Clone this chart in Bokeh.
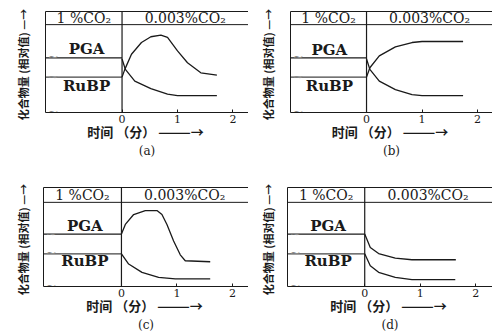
from bokeh.plotting import figure
from bokeh.models import FixedTicker, LinearAxis, Span, Range1d
from bokeh.layouts import column, row
from bokeh.core.properties import value
from bokeh.embed import file_html
from bokeh.resources import INLINE

# ---------------- data ----------------
panel_names = ["(a)", "(b)", "(c)", "(d)"]
header_left = "1 %CO₂"
header_right = "0.003%CO₂"
pga_label = "PGA"
rubp_label = "RuBP"
x_ticks = [0, 1, 2]
x_label = "时间 （分）  ———→"
y_label = "化合物量  (相对值)  —→"

before_t = [-1.6, 0]

# panel (a)
a_pga_before = 54
a_rubp_before = 35
a_up_t = [0, 0.05, 0.17, 0.35, 0.52, 0.70, 0.82, 1.0, 1.18, 1.42, 1.71]
a_up_v = [35, 42.7, 57.7, 69.3, 75, 76.7, 74.3, 61, 49.3, 39.3, 37]
a_down_t = [0, 0.06, 0.23, 0.52, 0.82, 1.0, 1.71]
a_down_v = [53, 42.7, 31, 23.7, 18.3, 16.7, 16.7]

# panel (b)
b_pga_before = 54
b_rubp_before = 35
b_up_t = [0, 0.06, 0.23, 0.52, 0.82, 1.0, 1.74]
b_up_v = [35, 44.3, 56, 65, 69.3, 70.3, 70.3]
b_down_t = [0, 0.06, 0.23, 0.52, 0.82, 1.0, 1.74]
b_down_v = [53, 42.7, 31, 22.7, 17.7, 16.7, 16.7]

# panel (c)
c_pga_before = 53
c_rubp_before = 33
c_pga_t = [0, 0.07, 0.22, 0.43, 0.64, 0.73, 0.82, 0.94, 1.06, 1.15, 1.6]
c_pga_v = [53, 62.7, 72.7, 76.7, 76.7, 72.7, 62.7, 46, 32, 26, 25]
c_rubp_t = [0, 0.13, 0.37, 0.67, 0.97, 1.6]
c_rubp_v = [33, 22.7, 14.3, 9.3, 7.7, 7.7]

# panel (d)
d_pga_before = 53
d_rubp_before = 33
d_pga_t = [0, 0.1, 0.25, 0.55, 0.85, 1.64]
d_pga_v = [53, 39.3, 33.3, 28.7, 27, 27]
d_rubp_t = [0, 0.1, 0.25, 0.55, 0.85, 1.63]
d_rubp_v = [33, 21, 14.3, 9.3, 7, 7]

# label positions (data units)
label_t = [-0.64, -0.67, -0.66, -0.66]
pga_label_v = [63, 62, 61, 61]
rubp_label_v = [26, 26, 26, 26]
header_level = [87, 87, 85, 85]
box_top = 100

INK = "#1a1a1a"
GREY = "#8a8a8a"
SERIF = "DejaVu Serif"
CJK = "Noto Sans CJK SC"


def make_panel(idx, width, height, border_left, border_top, border_bottom,
               x_start, x_end, curves, pga_before, rubp_before, right_edge,
               ylab_standoff):
    p = figure(width=width, height=height, output_backend="svg",
               toolbar_location=None, x_range=Range1d(x_start, x_end),
               y_range=Range1d(0, box_top), min_border_left=border_left,
               min_border_right=0, min_border_top=border_top,
               min_border_bottom=border_bottom, outline_line_color=None)
    p.grid.visible = False
    p.background_fill_color = "white"
    p.border_fill_color = "white"

    # bottom axis
    xa = p.xaxis[0]
    xa.ticker = FixedTicker(ticks=x_ticks)
    xa.major_tick_in = 3
    xa.major_tick_out = 0
    xa.minor_tick_line_color = None
    xa.axis_line_color = INK
    xa.major_tick_line_color = INK
    xa.major_label_text_font = SERIF
    xa.major_label_text_font_size = "11px"
    xa.major_label_text_color = INK
    xa.major_label_standoff = 2
    xa.axis_label = x_label
    xa.axis_label_text_font = CJK
    xa.axis_label_text_font_size = "13px"
    xa.axis_label_text_font_style = "bold"
    xa.axis_label_text_color = INK
    xa.axis_label_standoff = -4

    # panel caption as a second, line-less axis below
    cap = LinearAxis(ticker=FixedTicker(ticks=[]), major_tick_out=0,
                     major_tick_in=0, minor_tick_line_color=None,
                     major_label_text_font_size="0px", major_label_standoff=0,
                     axis_line_color=None, axis_label=panel_names[idx],
                     axis_label_text_font=SERIF,
                     axis_label_text_font_size="12px",
                     axis_label_text_font_style="normal",
                     axis_label_text_color=INK, axis_label_standoff=0)
    p.add_layout(cap, "below")

    # left axis: only line + label
    ya = p.yaxis[0]
    ya.ticker = FixedTicker(ticks=[])
    ya.major_tick_out = 0
    ya.major_tick_in = 0
    ya.minor_tick_line_color = None
    ya.major_label_text_font_size = "0px"
    ya.major_label_standoff = 0
    ya.axis_line_color = INK
    ya.axis_label = y_label
    ya.axis_label_text_font = CJK
    ya.axis_label_text_font_size = "11px"
    ya.axis_label_text_font_style = "bold"
    ya.axis_label_text_color = INK
    ya.axis_label_standoff = ylab_standoff

    def line_axis():
        return LinearAxis(ticker=FixedTicker(ticks=[]), major_tick_out=0,
                          major_tick_in=0, minor_tick_line_color=None,
                          major_label_text_font_size="0px",
                          major_label_standoff=0, axis_line_color=INK)

    p.add_layout(line_axis(), "above")
    if right_edge:
        p.add_layout(line_axis(), "right")

    # header divider and time-0 line
    p.add_layout(Span(location=header_level[idx], dimension="width",
                      line_color=INK, line_width=1))
    p.add_layout(Span(location=0, dimension="height", line_color=INK,
                      line_width=1.2))

    # before levels
    p.line(before_t, [pga_before, pga_before], line_color=INK, line_width=1.3)
    p.line(before_t, [rubp_before, rubp_before], line_color="#444444",
           line_width=1.3)

    # small grey break marks at the left edge
    p.text(x=[x_start + 0.14] * 3, y=[pga_before + 1, rubp_before + 1, 1],
           text=["~", "~", "~"], text_font=value(SERIF),
           text_font_size="13px", text_color=GREY, text_align="center",
           text_baseline="middle")

    for (t, v) in curves:
        p.line(t, v, line_color=INK, line_width=1.3)

    # header texts
    hv = (header_level[idx] + box_top) / 2
    p.text(x=[x_start / 2], y=[hv], text=[header_left],
           text_font=value(SERIF), text_font_size="14px", text_color=INK,
           text_align="center", text_baseline="middle")
    p.text(x=[min(x_end, 2.28) / 2], y=[hv], text=[header_right],
           text_font=value(SERIF), text_font_size="14px", text_color=INK,
           text_align="center", text_baseline="middle")

    # compound labels
    p.text(x=[label_t[idx]], y=[pga_label_v[idx]], text=[pga_label],
           text_font=value(SERIF), text_font_size="15px",
           text_font_style="bold", text_color=INK,
           text_align="center", text_baseline="middle")
    p.text(x=[label_t[idx]], y=[rubp_label_v[idx]], text=[rubp_label],
           text_font=value(SERIF), text_font_size="15px",
           text_font_style="bold", text_color=INK,
           text_align="center", text_baseline="middle")
    return p


pa = make_panel(0, 248, 176, 45, 11, 64, -1.38, 2.28,
                [(a_up_t, a_up_v), (a_down_t, a_down_v)],
                a_pga_before, a_rubp_before, True, 15)
pb = make_panel(1, 244, 176, 42, 11, 64, -1.37, 2.27,
                [(b_up_t, b_up_v), (b_down_t, b_down_v)],
                b_pga_before, b_rubp_before, False, 15)
pc = make_panel(2, 248, 158, 43, 11, 46, -1.405, 2.29,
                [(c_pga_t, c_pga_v), (c_rubp_t, c_rubp_v)],
                c_pga_before, c_rubp_before, True, 13)
pd = make_panel(3, 244, 158, 39, 11, 46, -1.39, 2.30,
                [(d_pga_t, d_pga_v), (d_rubp_t, d_rubp_v)],
                d_pga_before, d_rubp_before, False, 12)

layout = column(row(pa, pb), row(pc, pd))

open("out.html", "w").write(file_html(layout, INLINE))
